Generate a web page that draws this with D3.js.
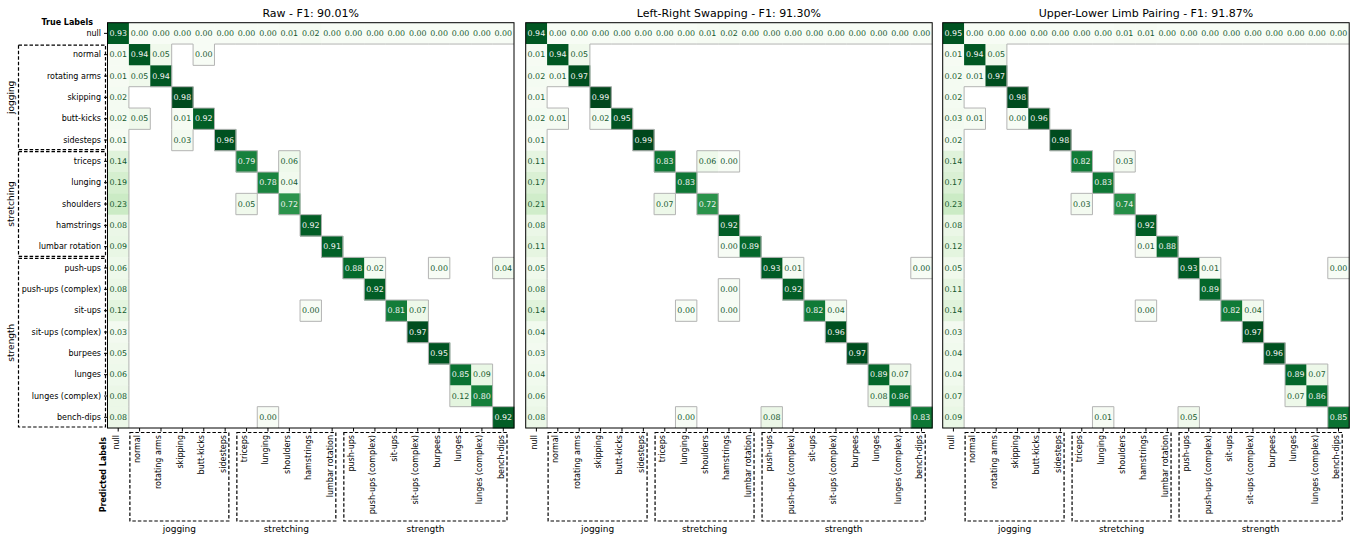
<!DOCTYPE html>
<html>
<head>
<meta charset="utf-8">
<script src="https://cdn.jsdelivr.net/npm/d3@7"></script>
<style>
  body { margin: 0; background: #fff; }
  text { font-family: "DejaVu Sans", sans-serif; }
</style>
</head>
<body>
<div id="chart"></div>
<script>
var width = 1354;
var height = 536;

var classes = ["null", "normal", "rotating arms", "skipping", "butt-kicks", "sidesteps",
    "triceps", "lunging", "shoulders", "hamstrings", "lumbar rotation",
    "push-ups", "push-ups (complex)", "sit-ups", "sit-ups (complex)", "burpees",
    "lunges", "lunges (complex)", "bench-dips"];

var groupNames = ["jogging", "stretching", "strength"];
var groupStart = [1, 6, 11];
var groupEnd = [5, 10, 18];

var titles = ["Raw - F1: 90.01%", "Left-Right Swapping - F1: 91.30%", "Upper-Lower Limb Pairing - F1: 91.87%"];

// first row (true = null), all columns
var rawNullRow = [0.93, 0, 0, 0, 0, 0, 0, 0, 0.01, 0.02, 0, 0, 0, 0, 0, 0, 0, 0, 0];
var lrNullRow  = [0.94, 0, 0, 0, 0, 0, 0, 0, 0.01, 0.02, 0, 0, 0, 0, 0, 0, 0, 0, 0];
var ulNullRow  = [0.95, 0, 0, 0, 0, 0, 0, 0, 0.01, 0.01, 0, 0, 0, 0, 0, 0, 0, 0, 0];

// first column (predicted = null), rows 1..18
var rawNullCol = [0.01, 0.01, 0.02, 0.02, 0.01, 0.14, 0.19, 0.23, 0.08, 0.09, 0.06, 0.08, 0.12, 0.03, 0.05, 0.06, 0.08, 0.08];
var lrNullCol  = [0.01, 0.02, 0.01, 0.02, 0.01, 0.11, 0.17, 0.21, 0.08, 0.11, 0.05, 0.08, 0.14, 0.04, 0.03, 0.04, 0.06, 0.08];
var ulNullCol  = [0.01, 0.02, 0.02, 0.03, 0.02, 0.14, 0.17, 0.23, 0.08, 0.12, 0.05, 0.11, 0.14, 0.03, 0.04, 0.04, 0.07, 0.09];

// remaining non-empty cells: [row, col, value]
var rawCells = [
    [1, 1, 0.94], [1, 2, 0.05], [1, 4, 0.00],
    [2, 1, 0.05], [2, 2, 0.94],
    [3, 3, 0.98],
    [4, 1, 0.05], [4, 3, 0.01], [4, 4, 0.92],
    [5, 3, 0.03], [5, 5, 0.96],
    [6, 6, 0.79], [6, 8, 0.06],
    [7, 7, 0.78], [7, 8, 0.04],
    [8, 6, 0.05], [8, 8, 0.72],
    [9, 9, 0.92],
    [10, 10, 0.91],
    [11, 11, 0.88], [11, 12, 0.02], [11, 15, 0.00], [11, 18, 0.04],
    [12, 12, 0.92],
    [13, 9, 0.00], [13, 13, 0.81], [13, 14, 0.07],
    [14, 14, 0.97],
    [15, 15, 0.95],
    [16, 16, 0.85], [16, 17, 0.09],
    [17, 16, 0.12], [17, 17, 0.80],
    [18, 7, 0.00], [18, 18, 0.92]
];
var lrCells = [
    [1, 1, 0.94], [1, 2, 0.05],
    [2, 1, 0.01], [2, 2, 0.97],
    [3, 3, 0.99],
    [4, 1, 0.01], [4, 3, 0.02], [4, 4, 0.95],
    [5, 5, 0.99],
    [6, 6, 0.83], [6, 8, 0.06], [6, 9, 0.00],
    [7, 7, 0.83],
    [8, 6, 0.07], [8, 8, 0.72],
    [9, 9, 0.92],
    [10, 9, 0.00], [10, 10, 0.89],
    [11, 11, 0.93], [11, 12, 0.01], [11, 18, 0.00],
    [12, 9, 0.00], [12, 12, 0.92],
    [13, 7, 0.00], [13, 9, 0.00], [13, 13, 0.82], [13, 14, 0.04],
    [14, 14, 0.96],
    [15, 15, 0.97],
    [16, 16, 0.89], [16, 17, 0.07],
    [17, 16, 0.08], [17, 17, 0.86],
    [18, 7, 0.00], [18, 11, 0.08], [18, 18, 0.83]
];
var ulCells = [
    [1, 1, 0.94], [1, 2, 0.05],
    [2, 1, 0.01], [2, 2, 0.97],
    [3, 3, 0.98],
    [4, 1, 0.01], [4, 3, 0.00], [4, 4, 0.96],
    [5, 5, 0.98],
    [6, 6, 0.82], [6, 8, 0.03],
    [7, 7, 0.83],
    [8, 6, 0.03], [8, 8, 0.74],
    [9, 9, 0.92],
    [10, 9, 0.01], [10, 10, 0.88],
    [11, 11, 0.93], [11, 12, 0.01], [11, 18, 0.00],
    [12, 12, 0.89],
    [13, 9, 0.00], [13, 13, 0.82], [13, 14, 0.04],
    [14, 14, 0.97],
    [15, 15, 0.96],
    [16, 16, 0.89], [16, 17, 0.07],
    [17, 16, 0.07], [17, 17, 0.86],
    [18, 7, 0.01], [18, 11, 0.05], [18, 18, 0.85]
];

var n = classes.length;

function buildMatrix(nullRow, nullCol, cells) {
    var m = d3.range(n).map(() => d3.range(n).map(() => null));
    nullRow.forEach((v, c) => m[0][c] = v);
    nullCol.forEach((v, r) => m[r + 1][0] = v);
    cells.forEach(d => m[d[0]][d[1]] = d[2]);
    return m;
}

var panels = [
    buildMatrix(rawNullRow, rawNullCol, rawCells),
    buildMatrix(lrNullRow, lrNullCol, lrCells),
    buildMatrix(ulNullRow, ulNullCol, ulCells)
];

/* layout */
var panelLeft = [107.5, 525.7, 942.7];
var panelSize = 406.5;
var matTop = 22.7;
var matBottom = 428;

var color = d3.scaleSequential(d3.interpolateGreens).domain([0, 1]);

var svg = d3.select("#chart").append("svg")
    .attr("width", width)
    .attr("height", height);

var y = d3.scaleBand().domain(d3.range(n)).range([matTop, matBottom]);

panels.forEach(function(m, p) {
    var x = d3.scaleBand().domain(d3.range(n)).range([panelLeft[p], panelLeft[p] + panelSize]);
    var g = svg.append("g");

    var flat = [];
    m.forEach((row, r) => row.forEach((v, c) => { if (v !== null) flat.push({r: r, c: c, v: v}); }));

    g.selectAll("rect.cell")
        .data(flat).enter()
        .append("rect")
        .attr("class", "cell")
        .attr("x", d => x(d.c))
        .attr("y", d => y(d.r))
        .attr("width", x.bandwidth() + 0.4)
        .attr("height", y.bandwidth() + 0.4)
        .attr("fill", d => color(d.v));

    // gray outline where filled cells meet empty ones
    var segs = [];
    flat.forEach(function(d) {
        var x0 = x(d.c), x1 = x0 + x.bandwidth(), y0 = y(d.r), y1 = y0 + y.bandwidth();
        if (d.r > 0 && m[d.r - 1][d.c] === null) segs.push([x0, y0, x1, y0]);
        if (d.r < n - 1 && m[d.r + 1][d.c] === null) segs.push([x0, y1, x1, y1]);
        if (d.c > 0 && m[d.r][d.c - 1] === null) segs.push([x0, y0, x0, y1]);
        if (d.c < n - 1 && m[d.r][d.c + 1] === null) segs.push([x1, y0, x1, y1]);
    });
    g.selectAll("line.edge")
        .data(segs).enter()
        .append("line")
        .attr("x1", d => d[0]).attr("y1", d => d[1])
        .attr("x2", d => d[2]).attr("y2", d => d[3])
        .attr("stroke", "#b4b4b4")
        .attr("stroke-width", 1);

    g.selectAll("text.val")
        .data(flat).enter()
        .append("text")
        .attr("x", d => x(d.c) + x.bandwidth() / 2)
        .attr("y", d => y(d.r) + y.bandwidth() / 2)
        .attr("dy", "0.35em")
        .attr("text-anchor", "middle")
        .attr("font-size", 7.9)
        .attr("fill", d => d.v > 0.5 ? "#f2f2f2" : "#14582e")
        .text(d => d.v.toFixed(2));

    g.append("rect")
        .attr("x", panelLeft[p])
        .attr("y", matTop)
        .attr("width", panelSize)
        .attr("height", matBottom - matTop)
        .attr("fill", "none")
        .attr("stroke", "#000")
        .attr("stroke-width", 1);

    g.append("text")
        .attr("x", panelLeft[p] + panelSize / 2)
        .attr("y", 17)
        .attr("text-anchor", "middle")
        .attr("font-size", 11)
        .text(titles[p]);

    /* x axis */
    var xAxis = g.append("g")
        .attr("transform", `translate(0, ${matBottom})`)
        .call(d3.axisBottom(x).tickSize(3.5).tickFormat(i => classes[i]));
    xAxis.select(".domain").remove();
    xAxis.attr("font-family", "DejaVu Sans").attr("font-size", 8);
    xAxis.selectAll("text")
        .attr("transform", "rotate(-90)")
        .attr("x", -7)
        .attr("y", 0)
        .attr("dy", "0.05em")
        .attr("text-anchor", "end")
        .attr("fill", "#000");

    /* group boxes under x axis */
    groupNames.forEach(function(name, k) {
        var gx0 = x(groupStart[k]) + 1;
        var gx1 = x(groupEnd[k]) + x.bandwidth() - 7;
        g.append("rect")
            .attr("x", gx0).attr("y", 432.5)
            .attr("width", gx1 - gx0).attr("height", 88.5)
            .attr("fill", "none")
            .attr("stroke", "#000")
            .attr("stroke-width", 1.2)
            .attr("stroke-dasharray", "3.5,2");
        g.append("text")
            .attr("x", (gx0 + gx1) / 2)
            .attr("y", 532)
            .attr("text-anchor", "middle")
            .attr("font-size", 9)
            .text(name);
    });

    if (p === 0) {
        var yAxis = g.append("g")
            .attr("transform", `translate(${panelLeft[p]}, 0)`)
            .call(d3.axisLeft(y).tickSize(3.5).tickFormat(i => classes[i]));
        yAxis.select(".domain").remove();
        yAxis.attr("font-family", "DejaVu Sans").attr("font-size", 8);
        yAxis.selectAll("text").attr("fill", "#000");

        groupNames.forEach(function(name, k) {
            var gy0 = y(groupStart[k]) + 1;
            var gy1 = y(groupEnd[k]) + y.bandwidth() - 1;
            g.append("rect")
                .attr("x", 18.5).attr("y", gy0)
                .attr("width", 87).attr("height", gy1 - gy0)
                .attr("fill", "none")
                .attr("stroke", "#000")
                .attr("stroke-width", 1.2)
                .attr("stroke-dasharray", "3.5,2");
            g.append("text")
                .attr("transform", `translate(11, ${(gy0 + gy1) / 2}) rotate(-90)`)
                .attr("text-anchor", "middle")
                .attr("dy", "0.35em")
                .attr("font-size", 9)
                .text(name);
        });

        g.append("text")
            .attr("x", 93)
            .attr("y", 25)
            .attr("text-anchor", "end")
            .attr("font-size", 8)
            .attr("font-weight", "bold")
            .text("True Labels");

        g.append("text")
            .attr("transform", "translate(103, 437) rotate(-90)")
            .attr("text-anchor", "end")
            .attr("dy", "0.35em")
            .attr("font-size", 8)
            .attr("font-weight", "bold")
            .text("Predicted Labels");
    }
});
</script>
</body>
</html>
